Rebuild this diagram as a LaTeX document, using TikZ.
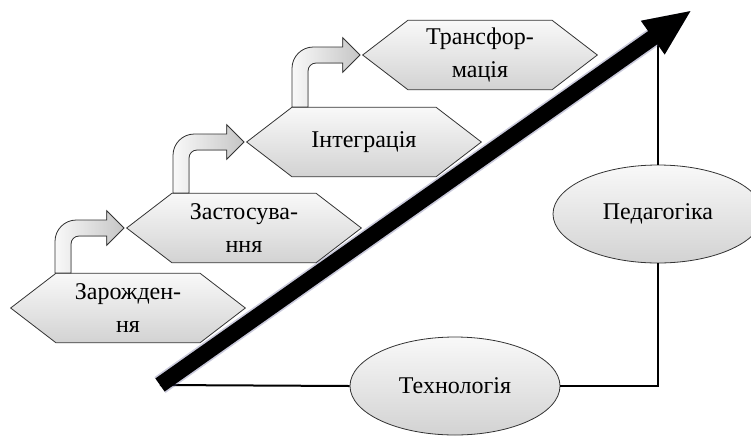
\documentclass[tikz,border=0pt]{standalone}
\usepackage{fontspec}
\setmainfont{Liberation Serif}
\usetikzlibrary{shapes.symbols,shapes.geometric,arrows.meta,calc}

\begin{document}
\begin{tikzpicture}[x=0.75pt,y=-0.75pt,
  every node/.style={font=\fontsize{18}{25}\selectfont},
  stage/.style={signal, signal to=west and east, signal pointer angle=75, draw=black!80, line width=0.6pt,
    top color=gray!5, bottom color=gray!35, minimum width=176pt, minimum height=52pt, inner sep=0pt, align=center},
  field/.style={ellipse, draw=black!80, line width=0.6pt, top color=gray!5, bottom color=gray!35,
    minimum width=157.5pt, minimum height=73.5pt, inner sep=0pt},
  bent/.style={draw=black!80, line width=0.6pt, left color=gray!5, right color=gray!45},
  link/.style={line width=1.5pt},
  growth/.style={line width=12pt, -{Triangle[length=36pt,width=28pt]}}]
\useasboundingbox (0,0) rectangle (751,437);
%Shape: Hexagons [stages]
\node[stage] (zar) at (128,308) {Зарожден-\\ня};
\node[stage] (zas) at (244,228) {Застосува-\\ння};
\node[stage] (int) at (364,142) {Інтеграція};
\node[stage] (tra) at (480,55) {Трансфор-\\мація};
%Shape: Ellipses
\node[field] (tech) at (455,386) {Технологія};
\node[field] (ped) at (658,214) {Педагогіка};
\coordinate (tail) at (160,385);
\coordinate (head) at (692,10);
\coordinate (meet) at (658,40);
%Straight Lines
\draw[link] (tail) -- (tech.west);
\draw[link] (tech.east) -| (ped.south);
\draw[link] (ped.north) -- (meet);
%Straight Lines [big arrow]
\draw[growth, draw=blue!20!gray, opacity=0.35, line width=14.5pt] (tail) -- (head);
\draw[growth] (tail) -- (head);
%Shape: Bent Arrows
\coordinate (b1) at ($(zar.west)+(53,0)$);
\coordinate (b2) at ($(zas.west)+(55,0)$);
\coordinate (b3) at ($(int.west)+(54,0)$);
\filldraw[bent] let \p1=(b1 |- zar.north), \p2=($(zas.west)+(-2,0)$) in
  (\x1-6pt,\y1) -- (\x1-6pt,\y2-10pt) arc[start angle=180,end angle=90,radius=16pt]
  -- (\x2-13pt,\y2+6pt) -- (\x2-13pt,\y2+13pt) -- (\x2,\y2) -- (\x2-13pt,\y2-13pt) -- (\x2-13pt,\y2-6pt)
  -- (\x1+12pt,\y2-6pt) arc[start angle=90,end angle=180,radius=6pt] -- (\x1+6pt,\y1) -- cycle;
\filldraw[bent] let \p1=(b2 |- zas.north), \p2=($(int.west)+(-2,0)$) in
  (\x1-6pt,\y1) -- (\x1-6pt,\y2-10pt) arc[start angle=180,end angle=90,radius=16pt]
  -- (\x2-13pt,\y2+6pt) -- (\x2-13pt,\y2+13pt) -- (\x2,\y2) -- (\x2-13pt,\y2-13pt) -- (\x2-13pt,\y2-6pt)
  -- (\x1+12pt,\y2-6pt) arc[start angle=90,end angle=180,radius=6pt] -- (\x1+6pt,\y1) -- cycle;
\filldraw[bent] let \p1=(b3 |- int.north), \p2=($(tra.west)+(-2,0)$) in
  (\x1-6pt,\y1) -- (\x1-6pt,\y2-10pt) arc[start angle=180,end angle=90,radius=16pt]
  -- (\x2-13pt,\y2+6pt) -- (\x2-13pt,\y2+13pt) -- (\x2,\y2) -- (\x2-13pt,\y2-13pt) -- (\x2-13pt,\y2-6pt)
  -- (\x1+12pt,\y2-6pt) arc[start angle=90,end angle=180,radius=6pt] -- (\x1+6pt,\y1) -- cycle;
\end{tikzpicture}
\end{document}
